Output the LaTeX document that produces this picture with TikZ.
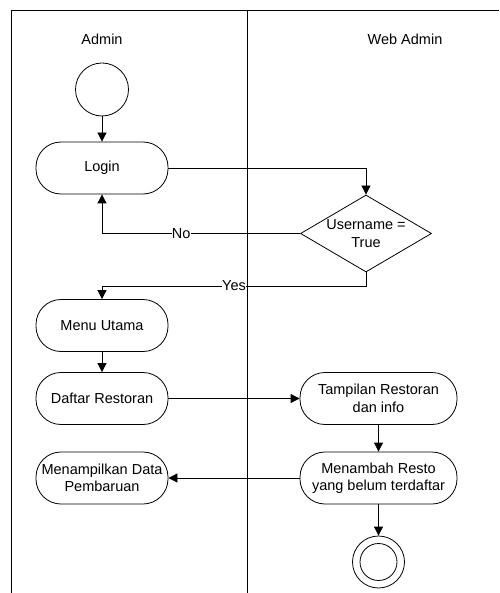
\documentclass[tikz,border=0pt]{standalone}
\usepackage{fontspec}
\setmainfont{Liberation Sans}
\usetikzlibrary{arrows.meta,shapes.geometric}
\begin{document}
\begin{tikzpicture}[x=1pt,y=-1pt,
  every node/.style={font=\fontsize{14.5}{17.5}\selectfont},
  act/.style={draw, rectangle, rounded corners=25pt, minimum width=132pt, minimum height=52pt, inner sep=0pt, align=center, line width=0.8pt},
  flow/.style={draw, line width=0.8pt, -{Triangle[length=9pt,width=9pt]}},
  lab/.style={fill=white, inner sep=0pt}]
\useasboundingbox (0,0) rectangle (499,593);
% frame
\draw[line width=0.8pt] (11,593) -- (11,10) -- (499,10);
\draw[line width=0.8pt] (247,10) -- (247,593);
\node (hA) at (102,39) {Admin};
\node (hW) at (405,39) {Web Admin};
% nodes
\node[draw, circle, minimum size=53pt, inner sep=0pt, line width=0.8pt] (start) at (102,89.5) {};
\node[act] (login) at (102,168) {Login};
\node[draw, diamond, minimum width=131pt, minimum height=77pt, inner sep=0pt, line width=0.8pt] (dec) at (366,233.5) {};
\node[align=center, inner sep=0pt] (dect) at (366,233.5) {Username =\\True};
\node[act] (menu) at (102,325.5) {Menu Utama};
\node[act] (daftar) at (102,398.5) {Daftar Restoran};
\node[act, minimum width=157pt] (tampil) at (378.5,398.5) {Tampilan Restoran\\dan info};
\node[act, minimum width=157pt] (tambah) at (378.5,478) {Menambah Resto\\yang belum terdaftar};
\node[act] (data) at (102,478) {Menampilkan Data\\Pembaruan};
\node[draw, circle, minimum size=52pt, inner sep=0pt, line width=0.8pt] (end) at (378.5,562) {};
\node[draw, circle, minimum size=37pt, inner sep=0pt, line width=0.8pt] (endi) at (378.5,562) {};
\coordinate (yesc) at (366,286);
% connectors
\draw[flow] (start) -- (login);
\draw[flow] (login.east) -| (dec.north);
\draw[flow] (dec.west) -| node[lab, pos=0.3] {No} (login.south);
\draw[flow] (dec.south) -- (yesc) -| node[lab, pos=0.25] {Yes} (menu.north);
\draw[flow] (menu) -- (daftar);
\draw[flow] (daftar) -- (tampil);
\draw[flow] (tampil) -- (tambah);
\draw[flow] (tambah) -- (data);
\draw[flow] (tambah) -- (end);
\end{tikzpicture}
\end{document}
